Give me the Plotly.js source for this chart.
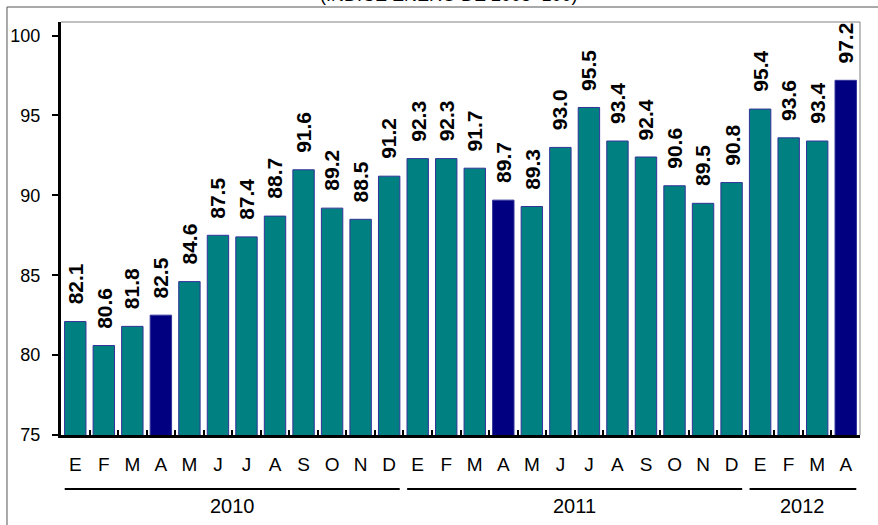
<!DOCTYPE html>
<html>
<head>
<meta charset="utf-8">
<script src="https://cdn.plot.ly/plotly-3.0.1.min.js"></script>
<style>
  body { margin: 0; background: #fff; }
  #plot { width: 878px; height: 525px; }
</style>
</head>
<body>
<div id="plot"></div>
<script>
var months = ['E','F','M','A','M','J','J','A','S','O','N','D',
              'E','F','M','A','M','J','J','A','S','O','N','D',
              'E','F','M','A'];
var values = [82.1, 80.6, 81.8, 82.5, 84.6, 87.5, 87.4, 88.7, 91.6, 89.2, 88.5, 91.2,
              92.3, 92.3, 91.7, 89.7, 89.3, 93.0, 95.5, 93.4, 92.4, 90.6, 89.5, 90.8,
              95.4, 93.6, 93.4, 97.2];
var years = ['2010', '2011', '2012'];
var yearStart = [0, 12, 24];
var yearEnd = [11, 23, 27];

var font = 'Arial, "Liberation Sans", sans-serif';
var idx = values.map((v, i) => i);
// April bars are highlighted in navy
var colors = idx.map(i => i % 12 === 3 ? '#000080' : '#008080');

var bars = {
  x: idx,
  y: values,
  type: 'bar',
  marker: {color: colors, line: {color: '#333399', width: 1}},
  hoverinfo: 'x+y',
  showlegend: false
};

// dummy trace so the overlay axis with the boundary ticks gets drawn
var ticksTrace = {
  x: [0], y: [75], xaxis: 'x2', mode: 'none', type: 'scatter',
  hoverinfo: 'skip', showlegend: false
};

var labels = values.map((v, i) => ({
  x: i, y: v, xref: 'x', yref: 'y',
  text: v.toFixed(1), showarrow: false,
  textangle: -90, yanchor: 'bottom', yshift: 15,
  font: {family: font, size: 21, color: '#000', weight: 'bold'}
}));

var yearLabels = years.map((yr, k) => ({
  x: (yearStart[k] + yearEnd[k]) / 2, y: -0.172, xref: 'x', yref: 'paper',
  text: yr, showarrow: false, yanchor: 'middle',
  font: {family: font, size: 20, color: '#000'}
}));

var title = {
  x: 0.485, y: 1.037, xref: 'paper', yref: 'paper',
  text: '(ÍNDICE ENERO DE 2005=100)', showarrow: false, yanchor: 'bottom',
  font: {family: font, size: 18, color: '#000'}
};

var yearLines = years.map((yr, k) => ({
  type: 'line', xref: 'x', yref: 'paper',
  x0: yearStart[k] - 0.37, x1: yearEnd[k] + 0.37, y0: -0.131, y1: -0.131,
  line: {color: '#000', width: 2}
}));

var frame = [
  {type: 'line', xref: 'paper', yref: 'paper', x0: 0, x1: 1, y0: 1, y1: 1,
   line: {color: '#808080', width: 1}},
  {type: 'line', xref: 'paper', yref: 'paper', x0: 1, x1: 1, y0: 0, y1: 1,
   line: {color: '#808080', width: 1}},
  {type: 'line', xref: 'paper', yref: 'paper', x0: -0.0676, x1: 1.03, y0: 1.0363, y1: 1.0363,
   line: {color: '#555', width: 1}},
  {type: 'line', xref: 'paper', yref: 'paper', x0: -0.0676, x1: -0.0676, y0: -0.3, y1: 1.0363,
   line: {color: '#555', width: 1}}
];

var layout = {
  width: 878,
  height: 525,
  margin: {l: 61, r: 18, t: 22, b: 90},
  paper_bgcolor: '#fff',
  plot_bgcolor: '#fff',
  bargap: 0.25,
  font: {family: font, size: 18, color: '#000'},
  xaxis: {
    range: [-0.5, 27.5],
    tickvals: idx,
    ticktext: months,
    ticks: '',
    ticklabelstandoff: 10,
    showgrid: false,
    zeroline: false,
    showline: true,
    linecolor: '#000',
    linewidth: 3,
    tickfont: {family: font, size: 19, color: '#000'},
    fixedrange: true
  },
  xaxis2: {
    overlaying: 'x',
    anchor: 'y',
    side: 'bottom',
    range: [-0.5, 27.5],
    tickvals: idx.slice(0, -1).map(i => i + 0.5),
    ticks: 'inside',
    ticklen: 5,
    tickwidth: 2,
    tickcolor: '#000',
    showticklabels: false,
    showgrid: false,
    zeroline: false,
    showline: false
  },
  yaxis: {
    range: [75, 100.85],
    tickvals: [75, 80, 85, 90, 95, 100],
    ticks: 'outside',
    ticklen: 6,
    tickwidth: 2,
    tickcolor: '#000',
    ticklabelstandoff: 8,
    showgrid: false,
    zeroline: false,
    showline: true,
    linecolor: '#000',
    linewidth: 3,
    tickfont: {family: font, size: 18, color: '#000'},
    fixedrange: true
  },
  annotations: labels.concat(yearLabels, [title]),
  shapes: yearLines.concat(frame)
};

Plotly.newPlot('plot', [bars, ticksTrace], layout, {displayModeBar: false, staticPlot: true});
</script>
</body>
</html>
